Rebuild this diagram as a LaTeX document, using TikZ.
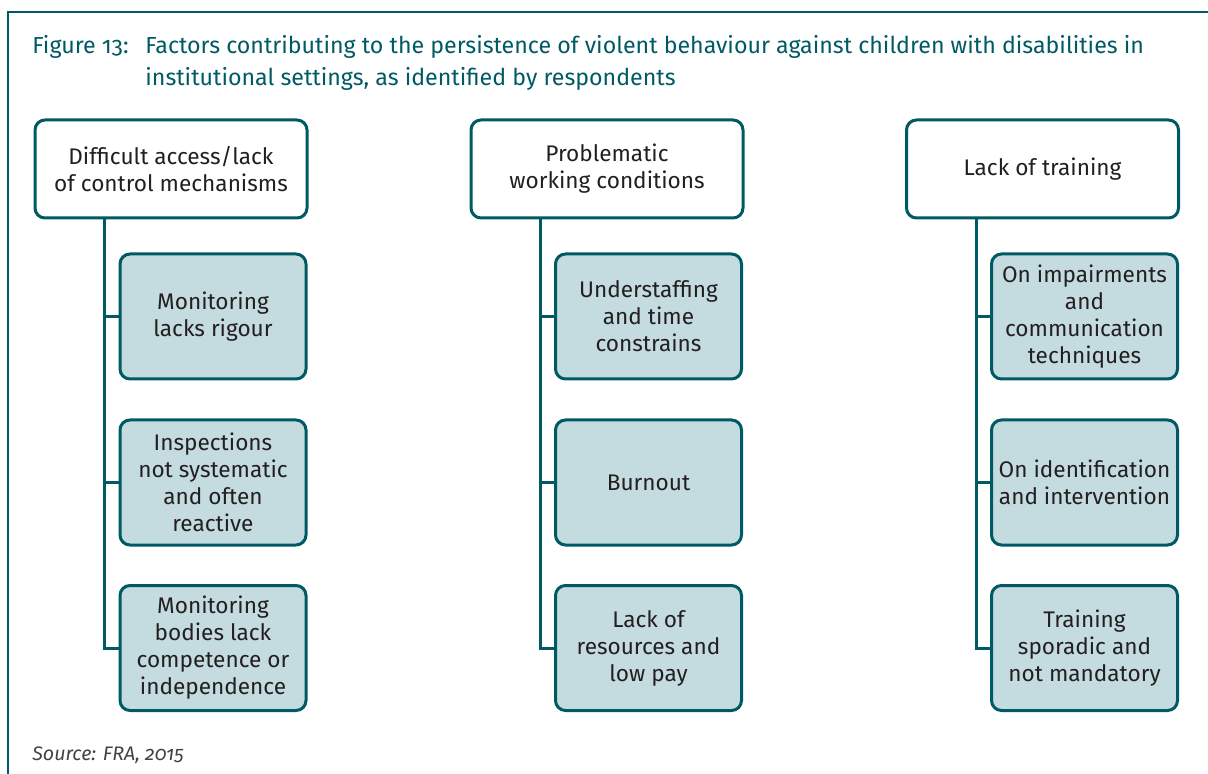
\documentclass[tikz,border=0pt]{standalone}
\usepackage{fontspec}
\setmainfont{Fira Sans}[Numbers=OldStyle]
\definecolor{fraTeal}{HTML}{005A64}
\definecolor{fraFill}{HTML}{C4DBE0}
\definecolor{fraText}{HTML}{231F20}
\begin{document}
\begin{tikzpicture}[x=0.5pt,y=-0.5pt,
    head/.style={draw=fraTeal, line width=1.5pt, rounded corners=5pt, fill=white,
        minimum width=136pt, minimum height=49pt, inner sep=0pt, align=center,
        text=fraText, font=\fontsize{11.3}{13.5}\selectfont},
    sub/.style={head, fill=fraFill, minimum width=93pt, minimum height=62.5pt},
    link/.style={draw=fraTeal, line width=1.5pt},
    title/.style={anchor=base west, inner sep=0pt, text=fraTeal, align=left,
        font=\fontsize{11.6}{16}\selectfont}]
\useasboundingbox (0,0) rectangle (1208,774);
% frame
\draw[fraTeal, line width=0.75pt] (8,774)--(8,12)--(1208,12);
\node[title] (fig) at (32,54) {Figure 13:};
\node[title] (cap) at (145,86) {Factors contributing to the persistence of violent behaviour against children with disabilities in\\institutional settings, as identified by respondents};

% top boxes
\node[head] (a) at (171,169) {Difficult access/lack\\of control mechanisms};
\node[head] (b) at (607,169) {Problematic\\working conditions};
\node[head] (c) at (1042.5,169) {Lack of training};

% sub boxes
\node[sub] (a1) at (213,316.5) {Monitoring\\lacks rigour};
\node[sub] (a2) at (213,482.5) {Inspections\\not systematic\\and often\\reactive};
\node[sub] (a3) at (213,648) {Monitoring\\bodies lack\\competence or\\independence};
\node[sub] (b1) at (648.5,316.5) {Understaffing\\and time\\constrains};
\node[sub] (b2) at (648.5,482.5) {Burnout};
\node[sub] (b3) at (648.5,648) {Lack of\\resources and\\low pay};
\node[sub] (c1) at (1084.5,316.5) {On impairments\\and\\communication\\techniques};
\node[sub] (c2) at (1084.5,482.5) {On identification\\and intervention};
\node[sub] (c3) at (1084.5,648) {Training\\sporadic and\\not mandatory};

% connectors
\foreach \c/\vx in {a/104,b/540,c/976}
{
    \coordinate (\c-v) at (\vx,0);
    \draw[link] (\c.south -| \c-v) |- (\c3.west);
    \draw[link] (\c-v |- \c1.west) -- (\c1.west);
    \draw[link] (\c-v |- \c2.west) -- (\c2.west);
}

\node[anchor=base west, inner sep=0pt, text=fraText!85, font=\fontsize{9.8}{11}\selectfont\itshape] (src) at (32,760) {Source: FRA, 2015};
\end{tikzpicture}
\end{document}
